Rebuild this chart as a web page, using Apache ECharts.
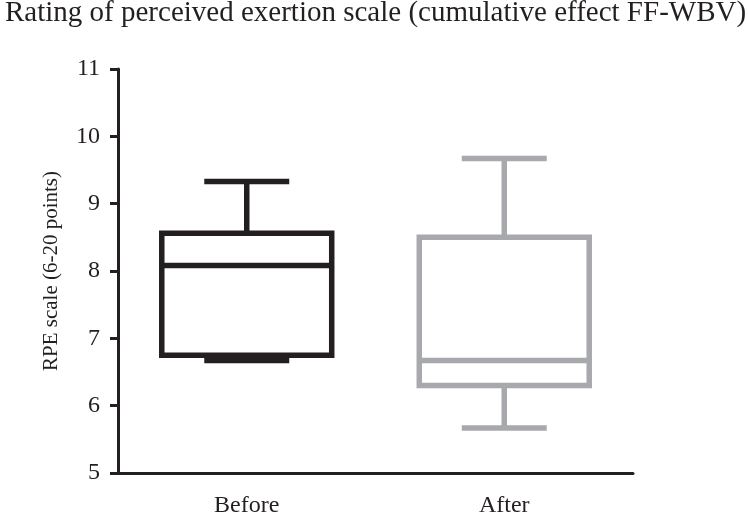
<!DOCTYPE html>
<html>
<head>
<meta charset="utf-8">
<script src="https://cdn.jsdelivr.net/npm/echarts@6/dist/echarts.min.js"></script>
<style>html,body{margin:0;padding:0;background:#fff}#c{width:748px;height:518px}</style>
</head>
<body>
<div id="c"></div>
<script>
var titleText = "Rating of perceived exertion scale (cumulative effect FF-WBV)";
var yAxisName = "RPE scale (6-20 points)";
var categories = ["Before", "After"];
// [min, Q1, median, Q3, max]
var beforeStats = [6.67, 6.75, 8.08, 8.56, 9.33];
var afterStats = [5.67, 6.30, 6.67, 8.50, 9.67];
var colors = ["#231f20", "#a7a9ac"];
var yMin = 5, yMax = 11, yInterval = 1;

var statsList = [beforeStats, afterStats];
var data = statsList.map(function (s, i) { return [i].concat(s); });

var chart = echarts.init(document.getElementById('c'), null, {renderer: 'canvas'});
var FONT = '"Liberation Serif", "Times New Roman", serif';

function renderItem(params, api) {
  var idx = api.value(0);
  var vmin = api.value(1), q1 = api.value(2), med = api.value(3), q3 = api.value(4), vmax = api.value(5);
  var band = api.size([1, 0])[0];
  var cx = api.coord([idx, med])[0];
  var bw = band * 0.66;
  var cw = bw / 2;
  var yMinP = api.coord([idx, vmin])[1];
  var yQ1 = api.coord([idx, q1])[1];
  var yMed = api.coord([idx, med])[1];
  var yQ3 = api.coord([idx, q3])[1];
  var yMaxP = api.coord([idx, vmax])[1];
  var col = colors[idx];
  var lw = 5.5;
  var st = {stroke: col, lineWidth: lw, fill: null, lineCap: 'butt', lineJoin: 'miter'};
  return {
    type: 'group',
    children: [
      {type: 'line', shape: {x1: cx, y1: yQ3, x2: cx, y2: yMaxP}, style: st},
      {type: 'line', shape: {x1: cx, y1: yQ1, x2: cx, y2: yMinP}, style: st},
      {type: 'line', shape: {x1: cx - cw / 2, y1: yMaxP, x2: cx + cw / 2, y2: yMaxP}, style: st},
      {type: 'line', shape: {x1: cx - cw / 2, y1: yMinP, x2: cx + cw / 2, y2: yMinP}, style: st},
      {type: 'rect', shape: {x: cx - bw / 2, y: yQ3, width: bw, height: yQ1 - yQ3}, style: {stroke: col, lineWidth: lw, fill: '#fff', lineJoin: 'miter'}},
      {type: 'line', shape: {x1: cx - bw / 2, y1: yMed, x2: cx + bw / 2, y2: yMed}, style: st}
    ]
  };
}

chart.setOption({
  animation: false,
  backgroundColor: '#fff',
  title: {
    text: titleText,
    left: 0, top: -6,
    textStyle: {fontFamily: FONT, fontSize: 29, fontWeight: 'normal', color: '#231f20'}
  },
  grid: {left: 118, right: 115, top: 69, bottom: 42},
  xAxis: {
    type: 'category',
    data: categories,
    axisLine: {lineStyle: {color: '#231f20', width: 3}},
    axisTick: {alignWithLabel: true, length: 8, lineStyle: {color: '#231f20', width: 3}},
    axisLabel: {fontFamily: FONT, fontSize: 24, color: '#231f20', margin: 21},
    splitLine: {show: false}
  },
  yAxis: {
    type: 'value',
    min: yMin, max: yMax, interval: yInterval,
    name: yAxisName,
    nameLocation: 'middle',
    nameGap: 56,
    nameTextStyle: {fontFamily: FONT, fontSize: 21, color: '#231f20'},
    axisLine: {show: true, lineStyle: {color: '#231f20', width: 3}},
    axisTick: {show: true, length: 8, lineStyle: {color: '#231f20', width: 3}},
    axisLabel: {fontFamily: FONT, fontSize: 24, color: '#231f20', margin: 18},
    splitLine: {show: false}
  },
  series: [{
    type: 'custom',
    renderItem: renderItem,
    encode: {x: 0, y: [1, 2, 3, 4, 5]},
    data: data
  }]
});
</script>
</body>
</html>
